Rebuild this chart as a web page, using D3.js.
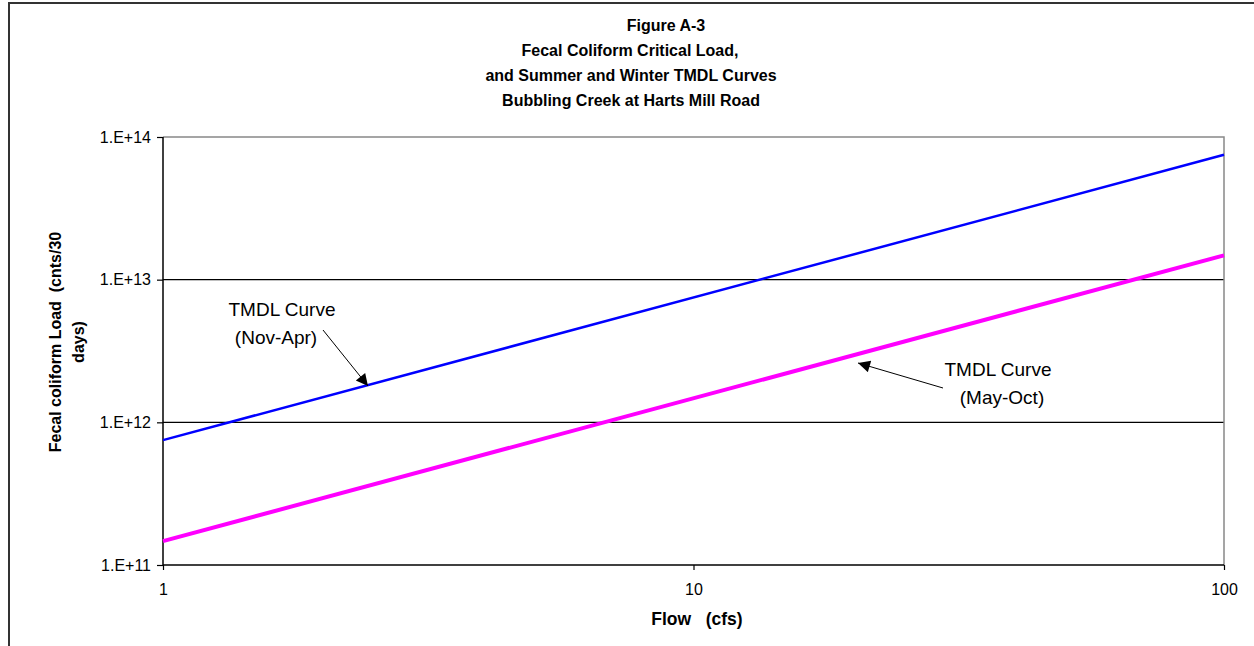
<!DOCTYPE html>
<html lang="en">
<head>
  <meta charset="UTF-8">
  <title>Figure A-3 Fecal Coliform TMDL Curves</title>
  <script src="https://d3js.org/d3.v7.min.js"></script>
  <style>
    body { margin: 0; background: #fff; }
    text { font-family: Arial, "Liberation Sans", sans-serif; fill: #000; }
  </style>
</head>
<body>
<script>
  // flow values (cfs) at the two ends of each curve
  const flows = [1, 100];
  // winter curve (Nov-Apr) and summer curve (May-Oct), counts / 30 days
  const winterLoad = [7.5e11, 7.5e13];
  const summerLoad = [1.47e11, 1.48e13];

  const xTicks = [1, 10, 100];
  const yTicks = [1e11, 1e12, 1e13, 1e14];
  const yTickLabels = ['1.E+11', '1.E+12', '1.E+13', '1.E+14'];
  const titleLines = ['Figure A-3', 'Fecal Coliform Critical Load,', 'and Summer and Winter TMDL Curves', 'Bubbling Creek at Harts Mill Road'];

  const width = 1254, height = 646;
  const plot = { left: 163, right: 1224, top: 137, bottom: 565 };

  const svg = d3.select('body').append('svg')
    .attr('width', width)
    .attr('height', height);

  // outer chart border (cut off at right and bottom like the original)
  svg.append('rect')
    .attr('x', 9).attr('y', 3)
    .attr('width', width + 10).attr('height', height + 10)
    .attr('fill', 'none')
    .attr('stroke', '#333')
    .attr('stroke-width', 2);

  const x = d3.scaleLog().domain([1, 100]).range([plot.left, plot.right]);
  const y = d3.scaleLog().domain([1e11, 1e14]).range([plot.bottom, plot.top]);

  // horizontal gridlines
  svg.selectAll('.grid')
    .data(yTicks.slice(1, 3))
    .enter().append('line')
    .attr('x1', plot.left).attr('x2', plot.right)
    .attr('y1', d => y(d)).attr('y2', d => y(d))
    .attr('stroke', '#000').attr('stroke-width', 1.2);

  // plot area border (top and right are grey)
  svg.append('path')
    .attr('d', `M${plot.left},${plot.top}H${plot.right}V${plot.bottom}`)
    .attr('fill', 'none').attr('stroke', '#888').attr('stroke-width', 1.5);

  // y axis
  const yAxis = d3.axisLeft(y)
    .tickValues(yTicks)
    .tickFormat((d, i) => yTickLabels[i])
    .tickSize(6).tickPadding(6);
  const gy = svg.append('g')
    .attr('transform', `translate(${plot.left},0)`)
    .call(yAxis);

  // x axis
  const xAxis = d3.axisBottom(x)
    .tickValues(xTicks)
    .tickFormat(d3.format('d'))
    .tickSize(5).tickPadding(14);
  const gx = svg.append('g')
    .attr('transform', `translate(0,${plot.bottom})`)
    .call(xAxis);

  [gx, gy].forEach(g => {
    g.select('.domain').attr('stroke', '#000').attr('stroke-width', 1.5);
    g.selectAll('.tick line').attr('stroke', '#000').attr('stroke-width', 1.2);
    g.selectAll('.tick text')
      .style('font-family', 'Arial, "Liberation Sans", sans-serif')
      .style('font-size', '16px').attr('fill', '#000');
  });
  gy.select('.domain').attr('d', `M0,${plot.bottom}V${plot.top}`);
  gx.select('.domain').attr('d', `M${plot.left},0H${plot.right}`);

  // curves
  const line = d3.line()
    .x(d => x(d[0]))
    .y(d => y(d[1]));

  svg.append('path')
    .datum(flows.map((f, i) => [f, summerLoad[i]]))
    .attr('d', line)
    .attr('fill', 'none')
    .attr('stroke', '#ff00ff')
    .attr('stroke-width', 4);

  svg.append('path')
    .datum(flows.map((f, i) => [f, winterLoad[i]]))
    .attr('d', line)
    .attr('fill', 'none')
    .attr('stroke', '#0000ff')
    .attr('stroke-width', 2.5);

  // title
  const titleX = [666, 630, 631, 631];
  svg.append('g').selectAll('text')
    .data(titleLines)
    .enter().append('text')
    .attr('x', (d, i) => titleX[i])
    .attr('y', (d, i) => 31 + i * 25)
    .attr('text-anchor', 'middle')
    .style('font-size', '16px')
    .style('font-weight', 'bold')
    .text(d => d);

  // axis titles
  svg.append('text')
    .attr('x', 697).attr('y', 625)
    .attr('text-anchor', 'middle')
    .style('font-size', '17.5px').style('font-weight', 'bold')
    .attr('xml:space', 'preserve')
    .text('Flow   (cfs)');

  const yTitle = svg.append('text')
    .attr('transform', 'translate(61,342) rotate(-90)')
    .attr('text-anchor', 'middle')
    .style('font-size', '16px').style('font-weight', 'bold')
    .attr('xml:space', 'preserve');
  yTitle.append('tspan').attr('x', 0).attr('dy', 0).text('Fecal coliform Load  (cnts/30');
  yTitle.append('tspan').attr('x', 0).attr('dy', 23).text('days)');

  // arrow marker
  svg.append('defs').append('marker')
    .attr('id', 'arrow')
    .attr('viewBox', '0 0 10 10')
    .attr('refX', 10).attr('refY', 5)
    .attr('markerWidth', 14).attr('markerHeight', 12)
    .attr('markerUnits', 'userSpaceOnUse')
    .attr('orient', 'auto')
    .append('path').attr('d', 'M0,0L10,5L0,10Z').attr('fill', '#000');

  // annotations
  function note(xs, cy, lines, from, to) {
    svg.append('g').selectAll('text')
      .data(lines)
      .enter().append('text')
      .attr('x', (d, i) => xs[i])
      .attr('y', (d, i) => cy + i * 28)
      .attr('text-anchor', 'middle')
      .style('font-size', '19px')
      .text(d => d);
    svg.append('line')
      .attr('x1', from[0]).attr('y1', from[1])
      .attr('x2', to[0]).attr('y2', to[1])
      .attr('stroke', '#000').attr('stroke-width', 1)
      .attr('marker-end', 'url(#arrow)');
  }

  note([282, 276], 316, ['TMDL Curve', '(Nov-Apr)'], [323, 330], [368, 386]);
  note([998, 1002], 376, ['TMDL Curve', '(May-Oct)'], [943, 388], [858, 363]);
</script>
</body>
</html>
